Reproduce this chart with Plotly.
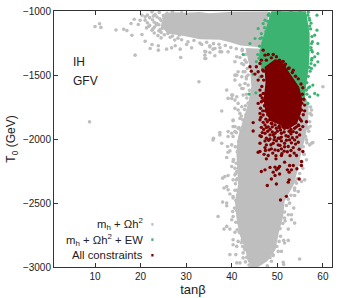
import plotly.graph_objects as go

FONT = "Liberation Sans, Arial, sans-serif"
GRAY, GREEN, RED = "#bebebe", "#3cb371", "#7d0000"

x_ticks = [10, 20, 30, 40, 50, 60]
y_ticks = [-1000, -1500, -2000, -2500, -3000]
legend_labels = ["m<sub>h</sub> + Ωh<sup>2</sup>", "m<sub>h</sub> + Ωh<sup>2</sup> + EW", "All constraints"]

# Outlines of the saturated regions (tanβ, T0)
gray_band_region = [(25, -1022), (27, -1010), (30, -1014), (33, -1008), (35, -1018), (40, -1006), (48, -1004), (48, -1290),
                    (42, -1270), (39.6, -1245), (37.4, -1225), (33, -1220), (30.1, -1200), (28.5, -1190), (26, -1175),
                    (24.4, -1120), (25, -1060)]
gray_column_region = [(43, -1290), (44, -1450), (44.3, -1592), (43.6, -1722), (42.5, -1852), (41.4, -1981), (41, -2098),
                      (41.2, -2228), (41.4, -2357), (40.7, -2487), (41, -2605), (41.6, -2735), (43, -2865), (43.5, -2955),
                      (44.5, -3000), (45.8, -3000), (47.8, -2955), (49.6, -2865), (50.3, -2735), (51.3, -2605),
                      (51.6, -2487), (53.6, -2357), (54.5, -2241), (55.3, -2098), (56.2, -1981), (56.8, -1852),
                      (56.9, -1722), (50, -1300)]
green_region = [(48.7, -1002), (47.6, -1125), (46.5, -1252), (45.9, -1368), (46.6, -1462), (52.7, -1696), (56, -1696),
                (56.3, -1594), (56.9, -1439), (57.1, -1306), (57.1, -1174), (56.3, -1002)]
red_region = [(49.5, -1376), (47.2, -1438), (47.4, -1563), (47, -1696), (47.4, -1790), (48.5, -1860), (50, -1880),
              (52.3, -1925), (54.3, -1880), (55.2, -1797), (55.5, -1696), (54.8, -1594), (52.7, -1485), (50.9, -1384)]

gray_points = [
    (8.8, -1866), (18.8, -1345), (16.3, -1143), (17.0, -1153), (18.1, -1189), (17.9, -1098), (18.6, -1065), (19.5, -1106),
    (19.9, -1072), (20.3, -1033), (21, -1046), (20.3, -1184), (21, -1236), (22.5, -1262), (22.1, -1293),
    (23.9, -1272), (23.9, -1306), (25.7, -1298), (26.8, -1288), (27.6, -1272), (28.7, -1298), (28.8, -1363),
    (30.1, -1262), (31.2, -1288), (33.4, -1262), (34.1, -1314), (34.1, -1345), (34.1, -1371), (35.2, -1272),
    (35.2, -1324), (35.9, -1298), (36.3, -1350), (37.4, -1288), (37.8, -1319), (11.0, -1100), (10.0, -1122),
    (11.3, -1128), (14.6, -1148),
    (32.8, -1553), (34.3, -1319), (34.3, -1371), (35.2, -1280), (36.3, -1293), (37.4, -1319), (39.2, -1319),
    (41.1, -1358), (41.8, -1363), (40.7, -1397), (42.2, -1410), (42.9, -1384), (41.4, -1475), (42.9, -1475),
    (42.2, -1514), (40.7, -1540), (41.8, -1579), (42.5, -1605), (38.9, -1618), (40, -1657), (39.2, -1683),
    (40.7, -1696), (37.8, -1781), (40.7, -1761), (41.4, -1774), (40.3, -1857), (40.3, -1903), (39.2, -1942),
    (37.4, -1968), (35.9, -2007), (39.1, -2059), (60, -1592), (57.5, -2033), (57.8, -2028), (56, -1865),
    (40.7, -1501), (40.2, -1657), (40, -1683), (41.1, -1670),
    (42.2, -1605), (42.5, -1657), (41.4, -1722), (42.2, -1748), (41.8, -1800), (41.8, -1839),
    (40.3, -1852), (40.7, -1903), (40, -1955), (40.7, -1942), (37.4, -1950), (41.4, -1916), (40.3, -1981),
    (36, -1994), (57.5, -1774), (57.5, -1813), (57.1, -1865), (56.7, -1916), (56.4, -1903), (43.2, -1514),
    (42.5, -1475), (43.6, -1579), (41.1, -1501), (42.9, -1566), (37.8, -2033), (39.2, -1981), (40, -2046),
    (39.6, -2093), (38.9, -2145), (39.2, -2103), (40.3, -2176), (40, -2215), (40.7, -2228), (41.1, -2254),
    (39.2, -2285), (38.5, -2293), (38, -2306), (40.3, -2319), (38.3, -2383), (38.9, -2371), (39.2, -2396),
    (39.6, -2430), (40.3, -2461), (38, -2493), (38.9, -2500), (56, -2319), (55.3, -2332), (54.2, -2345),
    (53.8, -2383), (54.6, -2410), (53.8, -2441), (56.4, -2163), (55.6, -2228), (57.1, -2046), (56.4, -2007),
    (38.9, -2522), (37, -2605), (38.9, -2683), (38.3, -2704), (39.6, -2704), (40, -2631), (40.3, -2605),
    (40.2, -2566), (40.7, -2729), (40.3, -2787), (40.3, -2826), (41.1, -2839), (39.6, -2903), (40.9, -2903),
    (41.1, -2968), (41.8, -2968), (42.5, -2929), (42.9, -2865), (41.4, -2800), (54.9, -2937), (51.3, -2963),
    (51.4, -2981), (52.4, -2792), (51.4, -2792), (51.6, -2813), (50.9, -2878), (50.2, -2878), (49.1, -2911),
    (48.7, -2955), (53.8, -2657), (53.1, -2631), (53.1, -2592), (52.4, -2704), (51.6, -2618), (52.4, -2592),
    (53.6, -2540), (52.7, -2501), (55.9, -2120), (56.2, -1980),
]
gray_band_left = [
    (22.5, -1008), (24.1, -1012), (27, -1006), (29, -1015), (21.5, -1032), (23.2, -1028), (25, -1035), (26.6, -1026),
    (28, -1034), (22, -1052), (23.6, -1047), (25.1, -1056), (27, -1050), (29, -1045), (21, -1072), (22.6, -1068),
    (24.5, -1075), (26, -1066), (28, -1072), (21.5, -1092), (23, -1088), (25, -1095), (26.6, -1086), (27.8, -1094),
    (22, -1112), (24, -1107), (25.5, -1114), (27, -1106), (29, -1112), (21.3, -1132), (23, -1127), (24.8, -1135),
    (26.5, -1126), (28, -1134), (22.5, -1150), (24, -1155), (25.7, -1147), (27.5, -1153), (23, -1172), (24.5, -1167),
    (26, -1175), (27.8, -1168), (23.8, -1192), (25.2, -1186), (27, -1195), (28.5, -1187), (24.5, -1210), (26.5, -1205),
    (28.2, -1212), (27.5, -1226), (29, -1225), (30.4, -1240), (31.7, -1230), (33, -1250), (34.5, -1245), (36, -1255),
    (37.2, -1260), (38.6, -1270), (39.8, -1285), (41, -1295), (42.3, -1310), (43.6, -1320), (44.5, -1330), (45, -1350),
    (22.8, -1040), (24.2, -1060), (21.8, -1120), (23.6, -1098), (22.7, -1140), (23.4, -1110), (24.3, -1142), (25.8, -1018),
]
gray_column_left = [
    (42.3, -1300), (43, -1340), (42.6, -1420), (43.4, -1450), (43.2, -1530), (43.9, -1620), (43.3, -1680), (43.6, -1720),
    (42.8, -1770), (43.1, -1810), (42.4, -1850), (42.7, -1890), (41.9, -1930), (42.3, -1975), (41.5, -2020), (41.9, -2060),
    (41.2, -2100), (41.6, -2150), (41, -2190), (41.4, -2230), (40.9, -2270), (41.2, -2310), (40.8, -2350), (41.1, -2400),
    (41.3, -2440), (40.9, -2480), (41.4, -2520), (41.1, -2560), (41.7, -2610), (41.4, -2650), (42, -2690), (41.7, -2730),
    (42.4, -2770), (42.1, -2810), (42.8, -2850), (42.5, -2890), (43.3, -2925), (43, -2960), (43.8, -2985), (44.4, -2995),
    (40.6, -2540), (40.3, -2450), (40.7, -2400), (41, -2320), (40.7, -2280), (40.4, -2160), (40.8, -2060), (41, -1950),
    (41.6, -1910), (42.1, -1820), (43, -1740), (43.2, -1650), (43.6, -1500), (43.2, -1400), (40.9, -2650), (41.2, -2710),
    (42.3, -2790), (42.4, -2840),
]
gray_column_right = [
    (47.8, -2990), (48.4, -2925), (49, -2900), (50.4, -2800), (50.6, -2700), (51.2, -2660), (51.6, -2570), (52, -2520),
    (53, -2440), (53.8, -2400), (54.4, -2310), (54.9, -2270), (55.4, -2180), (55.8, -2120), (56.5, -2030), (56.9, -1940),
    (57.2, -1900), (57.2, -1800), (57.3, -1750), (49.9, -2840), (50.7, -2760), (51.7, -2640), (52.4, -2470), (53.9, -2330),
    (54.9, -2200), (55.7, -2060),
]
green_points = [
    (56.7, -1033), (58.7, -1033), (57.1, -1072), (57.1, -1117), (58.7, -1150), (58.2, -1189), (58.9, -1254),
    (57.5, -1254), (57.5, -1306), (58.9, -1332), (58.2, -1358), (57.5, -1384), (58.9, -1397), (58.2, -1423),
    (57.5, -1449), (45.8, -1137), (46.9, -1098), (47.3, -1072), (45.1, -1215), (44, -1254), (42.5, -1340),
    (46.5, -1176), (46.2, -1215), (46.9, -1280), (48, -1033), (43.8, -1649), (44.7, -1493), (45.3, -1639),
    (46.2, -1514), (58.2, -1644), (56.7, -1722), (57.1, -1670), (58.9, -1657), (56.4, -1618), (57.1, -1592),
    (57.8, -1579), (48.2, -1020), (50.5, -1005), (53, -1004), (55, -1006),
    (48.4, -1040), (47.9, -1080), (47.2, -1130), (47.5, -1160), (46.6, -1210), (46.9, -1245), (46.1, -1275), (46.4, -1310),
    (45.7, -1340), (46, -1370), (45.4, -1395), (56.8, -1010), (57, -1055), (57.4, -1095), (57.3, -1140), (57.6, -1200),
    (57.7, -1240), (57.4, -1285), (57.7, -1320), (57.6, -1370), (57.4, -1410), (57, -1440), (57.2, -1470), (56.8, -1510),
    (56.5, -1560), (56.8, -1600), (56.5, -1650), (56, -1700),
]
red_points = [
    (46.2, -2033), (46.5, -1981), (47.3, -2015), (47.6, -2046), (48.4, -1999), (49.1, -2033), (49.8, -2015),
    (50.5, -1994), (51.6, -2033), (52.7, -2007), (53.8, -2007), (54.6, -2025), (52.4, -2059), (50.2, -2046),
    (48.7, -2077), (49.5, -2085), (50.9, -2077), (46.2, -2098), (45.8, -2103), (47.3, -2067), (53.5, -2067),
    (55.6, -2098), (54.2, -2129), (48, -2129), (47.6, -2155), (49.7, -2155), (50.9, -2129), (55.3, -2176),
    (55.3, -2207), (51.6, -2181), (52.7, -2207), (53.5, -2207), (54.3, -2233), (53.1, -2241), (52.2, -2241),
    (52.6, -2259), (48.4, -2222), (49.5, -2220), (50.2, -2228), (50.5, -2215), (49.8, -2241), (47.3, -2241),
    (46.5, -2254), (49.1, -2259), (50.5, -2274), (49.5, -2285), (48.7, -2313), (52.6, -2319), (52.4, -2337),
    (54.8, -2313), (47.8, -2363), (49.8, -2352), (50.7, -2477), (52, -2448), (45.1, -1493), (45.8, -1540),
    (46.2, -1618), (46.9, -1644), (46.5, -1709), (45.8, -1722), (47.3, -1735), (46.2, -1800), (46.9, -1813),
    (47.3, -1890), (44.7, -1872), (44.7, -1937), (46.5, -1909), (47.3, -1955), (48.4, -1924), (47.6, -1994),
    (49.1, -1968), (50.2, -1994), (50.9, -1955), (52.4, -1981), (53.5, -1942), (54.9, -1968), (54.6, -1890),
    (56.4, -1865), (55.6, -1903), (55.3, -1774), (56, -1735), (52.7, -1903), (49.8, -1916), (51.6, -1916),
    (48.7, -1877), (53.8, -1916), (49.5, -1955), (48.4, -1968), (46.9, -1306), (47.3, -1345), (48, -1340),
    (49.1, -1340), (48.7, -1366), (46.2, -1410), (45.4, -1436), (44, -1436), (44.3, -1470), (45.8, -1475),
    (50.5, -1384), (51.6, -1428), (52.4, -1449), (53.5, -1462), (47.6, -1384), (46.5, -1384), (49.8, -1358),
    (47.5, -1845), (48.3, -1850), (47.8, -1865), (49, -1845), (49.6, -1860), (50.3, -1870), (51, -1880), (51.8, -1870),
    (52.6, -1880), (53.4, -1870), (54.1, -1850), (54.8, -1835), (47, -1925), (48, -1905), (48.9, -1905), (49.5, -1890),
    (50.4, -1900), (51.2, -1905), (52.1, -1895), (53, -1925), (54.2, -1905), (46.2, -1850), (46.9, -1870), (47.6, -1910),
    (50, -1940), (50.7, -1930), (51.5, -1945), (52.6, -1940), (53, -1960), (54.2, -1950), (55, -1925), (48.9, -1945),
    (47.9, -1940), (46.7, -1950), (46.2, -1975), (49.4, -1985), (50.9, -1985), (51.9, -1975), (53.3, -1990), (54.3, -1985),
    (48.1, -2010), (49.3, -2005), (50.9, -2015), (52, -2010), (53.1, -2030), (54, -2040), (48.6, -2045), (50.6, -2050),
    (51.6, -2060), (53, -2090), (47.4, -2090), (48.2, -2085), (50.2, -2090), (51.5, -2095), (52.2, -2100), (54.8, -2080),
    (49, -2110), (51, -2115), (52.8, -2130), (53.7, -2110), (49.7, -2130), (47.1, -2120),
    (55.5, -1650), (55.8, -1690), (56, -1780), (55.7, -1810), (55.6, -1600), (55.2, -1570), (54.6, -1530), (54, -1510),
    (53.3, -1480), (52.6, -1445), (51.8, -1415), (51.3, -1395), (46.8, -1460), (46.6, -1510), (47, -1540), (46.6, -1590),
    (46.3, -1660), (46.7, -1680), (46.3, -1760), (46.8, -1780), (46.4, -1830), (47.4, -1780), (47.9, -1810), (48.4, -1825),
    (47, -1470), (47.4, -1645), (47.2, -1740), (46.9, -1700), (55.1, -1850), (55.4, -1720), (48.8, -1880), (50.5, -1915),
    (52.9, -1945), (54.7, -1895), (55.3, -1860),
]


def unzip(pts):
    return [p[0] for p in pts], [p[1] for p in pts]


fig = go.Figure()
for pts, colour in [(gray_band_region, GRAY), (gray_column_region, GRAY)]:
    xs, ys = unzip(pts)
    fig.add_trace(go.Scatter(x=xs, y=ys, mode="none", fill="toself", fillcolor=colour, hoverinfo="skip"))
xs, ys = unzip(gray_points + gray_band_left + gray_column_left + gray_column_right)
fig.add_trace(go.Scatter(x=xs, y=ys, mode="markers", marker=dict(color=GRAY, size=3.6, symbol="circle")))
xs, ys = unzip(green_region)
fig.add_trace(go.Scatter(x=xs, y=ys, mode="none", fill="toself", fillcolor=GREEN, hoverinfo="skip"))
xs, ys = unzip(green_points)
fig.add_trace(go.Scatter(x=xs, y=ys, mode="markers", marker=dict(color=GREEN, size=3.2, symbol="circle")))
xs, ys = unzip(red_region)
fig.add_trace(go.Scatter(x=xs, y=ys, mode="none", fill="toself", fillcolor=RED, hoverinfo="skip"))
xs, ys = unzip(red_points)
fig.add_trace(go.Scatter(x=xs, y=ys, mode="markers", marker=dict(color=RED, size=3.4, symbol="circle")))

axis = dict(showgrid=False, zeroline=False, showline=True, linecolor="#333333", linewidth=1, mirror="ticks", automargin=False,
            ticks="inside", ticklen=4, tickcolor="#333333", tickfont=dict(family=FONT, size=10, color="#222222"))
fig.update_xaxes(range=[1, 62], tickvals=x_ticks, title=dict(text="tanβ", font=dict(family=FONT, size=13, color="#222222"), standoff=2), **axis)
fig.update_yaxes(range=[-3000, -1000], tickvals=y_ticks, title=dict(text="T<sub>0</sub> (GeV)", font=dict(family=FONT, size=12, color="#222222"), standoff=4), **axis)

notes = [dict(x=0.06, y=0.80, text="IH", xanchor="left", font=dict(family=FONT, size=12, color="#222222")),
         dict(x=0.06, y=0.726, text="GFV", xanchor="left", font=dict(family=FONT, size=12, color="#222222"))]
key_y = [0.1665, 0.107, 0.046]
key_colours = [GRAY, GREEN, RED]
shapes = []
for label, yy, colour in zip(legend_labels, key_y, key_colours):
    notes.append(dict(x=0.326, y=yy, text=label, xanchor="right", font=dict(family=FONT, size=11.3, color="#222222")))
    shapes.append(dict(type="rect", xref="paper", yref="paper", x0=0.35, x1=0.358, y0=yy - 0.005, y1=yy + 0.005,
                       fillcolor=colour, line_width=0))
for n in notes:
    n.update(xref="paper", yref="paper", showarrow=False, yanchor="middle")

fig.update_layout(width=349, height=298, margin=dict(l=53.5, r=17, t=10.5, b=30.5), showlegend=False,
                  plot_bgcolor="white", paper_bgcolor="white", annotations=notes, shapes=shapes)
fig.write_html("out.html", post_script="document.body.style.margin='0';", config=dict(displayModeBar=False))
